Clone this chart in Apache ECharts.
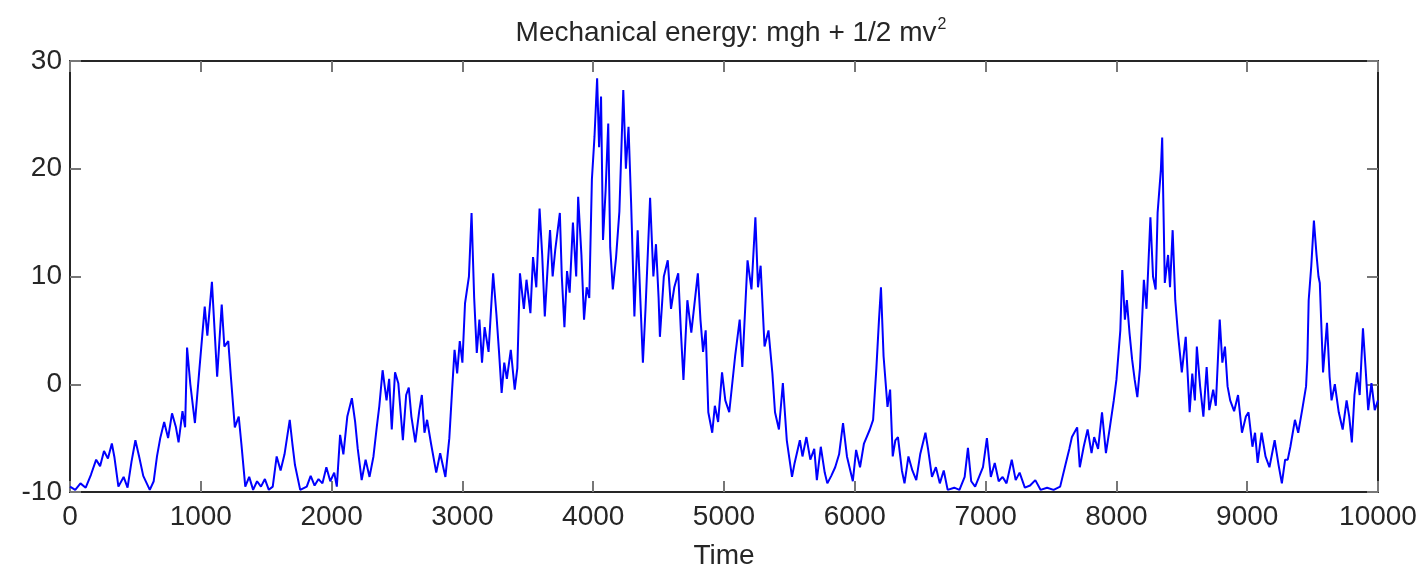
<!DOCTYPE html>
<html>
<head>
<meta charset="utf-8">
<script src="https://cdn.jsdelivr.net/npm/echarts@6/dist/echarts.min.js"></script>
<style>
  html, body { margin: 0; padding: 0; background: #fff; }
  #container { width: 1421px; height: 566px; }
</style>
</head>
<body>
<div id="container"></div>
<script>
  // time samples
  var time = [
    0, 40, 80, 120, 160, 200, 230, 260, 290, 320, 340, 370, 410, 440, 470, 500, 530, 560, 610, 640,
    665, 690, 720, 750, 780, 810, 830, 860, 880, 895, 920, 955, 990, 1030, 1050, 1085, 1110, 1125, 1160, 1180,
    1210, 1230, 1260, 1290, 1310, 1340, 1370, 1400, 1430, 1460, 1490, 1520, 1550, 1580, 1610, 1640, 1680, 1700, 1720, 1760,
    1810, 1840, 1870, 1900, 1930, 1960, 1990, 2020, 2040, 2065, 2090, 2120, 2155, 2180, 2200, 2230, 2260, 2290, 2320, 2345,
    2365, 2390, 2420, 2440, 2460, 2485, 2510, 2545, 2570, 2590, 2610, 2640, 2670, 2690, 2710, 2730, 2760, 2800, 2830, 2870,
    2900, 2920, 2940, 2960, 2980, 3000, 3020, 3050, 3070, 3090, 3110, 3130, 3150, 3170, 3200, 3235, 3260, 3280, 3300, 3320,
    3340, 3370, 3400, 3420, 3440, 3470, 3490, 3520, 3540, 3565, 3590, 3610, 3630, 3650, 3670, 3690, 3710, 3745, 3760, 3780,
    3800, 3820, 3845, 3870, 3885, 3910, 3930, 3950, 3970, 3990, 4010, 4030, 4045, 4060, 4075, 4095, 4115, 4130, 4150, 4175,
    4200, 4230, 4250, 4270, 4290, 4315, 4340, 4360, 4380, 4400, 4435, 4460, 4480, 4500, 4510, 4540, 4570, 4595, 4620, 4650,
    4670, 4690, 4720, 4750, 4800, 4820, 4840, 4860, 4880, 4910, 4930, 4955, 4985, 5010, 5040, 5085, 5120, 5140, 5180, 5210,
    5240, 5260, 5280, 5310, 5340, 5370, 5390, 5420, 5450, 5480, 5520, 5540, 5580, 5600, 5630, 5660, 5690, 5710, 5740, 5770,
    5790, 5820, 5850, 5880, 5910, 5940, 5985, 6010, 6040, 6070, 6115, 6140, 6165, 6185, 6200, 6220, 6250, 6270, 6290, 6310,
    6330, 6360, 6380, 6410, 6440, 6470, 6500, 6540, 6560, 6590, 6620, 6650, 6680, 6710, 6760, 6800, 6840, 6865, 6890, 6920,
    6950, 6980, 7010, 7040, 7070, 7100, 7130, 7160, 7200, 7230, 7260, 7300, 7340, 7380, 7420, 7470, 7520, 7570, 7610, 7640,
    7660, 7700, 7720, 7750, 7780, 7810, 7830, 7860, 7890, 7920, 7950, 7980, 8000, 8030, 8045, 8065, 8080, 8100, 8120, 8140,
    8160, 8180, 8210, 8230, 8260, 8280, 8300, 8315, 8340, 8350, 8370, 8395, 8410, 8430, 8450, 8470, 8500, 8530, 8560, 8580,
    8600, 8615, 8640, 8665, 8690, 8710, 8740, 8760, 8790, 8810, 8830, 8850, 8870, 8900, 8930, 8960, 8990, 9010, 9040, 9060,
    9080, 9110, 9140, 9170, 9210, 9240, 9265, 9290, 9310, 9330, 9365, 9390, 9420, 9450, 9460, 9470, 9490, 9510, 9530, 9545,
    9555, 9580, 9610, 9630, 9645, 9670, 9700, 9730, 9760, 9780, 9800, 9820, 9840, 9860, 9885, 9905, 9925, 9950, 9975, 10000
  ]

  // mechanical energy values at those times
  var energy = [
    -9.5, -9.8, -9.2, -9.6, -8.4, -7.0, -7.6, -6.2, -6.9, -5.5, -6.8, -9.5, -8.6, -9.6, -7.2, -5.2, -6.8, -8.5, -9.8, -9.0,
    -6.7, -5.0, -3.5, -5.0, -2.7, -4.0, -5.4, -2.5, -4.0, 3.4, 0.0, -3.6, 1.5, 7.2, 4.5, 9.5, 4.0, 0.7, 7.4, 3.5,
    4.0, 0.7, -4.0, -3.0, -5.5, -9.5, -8.6, -9.8, -9.0, -9.5, -8.8, -9.8, -9.5, -6.7, -8.0, -6.5, -3.3, -5.5, -7.5, -9.8,
    -9.5, -8.5, -9.4, -8.8, -9.2, -7.7, -9.0, -8.2, -9.5, -4.7, -6.5, -3.0, -1.3, -3.5, -6.0, -8.9, -7.0, -8.6, -6.7, -4.0,
    -2.0, 1.3, -1.5, 0.5, -4.2, 1.1, 0.1, -5.2, -1.0, -0.3, -3.0, -5.4, -2.5, -1.0, -4.5, -3.3, -5.5, -8.2, -6.4, -8.6,
    -5.0, -0.8, 3.2, 1.0, 4.0, 2.0, 7.5, 10.0, 15.9, 8.0, 2.9, 6.0, 2.0, 5.3, 3.0, 10.3, 6.5, 3.0, -0.8, 2.0,
    0.5, 3.2, -0.5, 1.5, 10.3, 7.0, 9.7, 6.6, 11.8, 9.0, 16.3, 12.0, 6.3, 10.5, 14.3, 10.0, 12.5, 15.9, 10.0, 5.3,
    10.5, 8.5, 15.0, 10.0, 17.4, 12.0, 6.0, 9.0, 8.0, 19.0, 23.0, 28.4, 22.0, 26.7, 13.4, 18.0, 24.2, 12.7, 8.8, 11.8,
    16.0, 27.3, 20.0, 23.9, 16.8, 6.3, 14.3, 8.0, 2.0, 7.0, 17.3, 10.0, 13.0, 8.0, 4.4, 10.0, 11.5, 7.0, 9.0, 10.3,
    5.0, 0.4, 7.8, 4.8, 10.3, 6.0, 3.0, 5.0, -2.6, -4.5, -2.0, -3.5, 1.1, -1.5, -2.6, 2.6, 6.0, 1.6, 11.5, 8.8,
    15.5, 9.0, 11.0, 3.5, 5.0, 1.0, -2.6, -4.2, 0.1, -5.2, -8.6, -7.3, -5.2, -6.7, -4.9, -7.0, -6.0, -8.9, -5.8, -8.2,
    -9.2, -8.5, -7.7, -6.5, -3.6, -6.7, -9.0, -6.1, -7.7, -5.5, -4.2, -3.3, 1.5, 6.0, 9.0, 2.6, -2.1, -0.5, -6.7, -5.2,
    -4.9, -8.0, -9.2, -6.7, -8.0, -8.9, -6.5, -4.5, -6.0, -8.6, -7.7, -9.2, -8.0, -9.8, -9.6, -9.8, -8.6, -5.9, -9.0, -9.5,
    -8.6, -7.7, -5.0, -8.6, -7.3, -9.0, -8.6, -9.2, -7.0, -8.9, -8.2, -9.6, -9.4, -8.9, -9.8, -9.6, -9.8, -9.5, -7.5, -6.0,
    -4.9, -4.0, -7.7, -5.8, -4.2, -6.4, -4.9, -6.0, -2.6, -6.4, -4.0, -1.5, 0.4, 5.0, 10.6, 6.0, 7.8, 4.8, 2.3, 0.4,
    -1.2, 1.5, 9.7, 7.0, 15.5, 10.0, 8.8, 15.9, 19.9, 22.9, 9.4, 12.0, 9.0, 14.3, 7.8, 4.8, 1.1, 4.4, -2.6, 1.0,
    -1.5, 3.5, -0.2, -3.0, 1.6, -2.4, -0.5, -2.0, 6.0, 2.0, 3.5, -0.2, -1.5, -2.5, -1.0, -4.5, -3.0, -2.6, -5.8, -4.5,
    -7.3, -4.5, -6.7, -7.7, -5.2, -7.5, -9.2, -7.0, -7.0, -5.8, -3.3, -4.5, -2.4, -0.2, 2.3, 7.8, 11.0, 15.2, 12.0, 10.0,
    9.4, 1.1, 5.7, 0.7, -1.5, 0.0, -2.6, -4.2, -1.5, -3.0, -5.4, -1.0, 1.1, -1.0, 5.2, 1.5, -2.4, 0.1, -2.4, -1.5
  ]

  // axis ticks
  var timeTicks = [0, 10000, 1000]
  var energyTicks = [-10, 30, 10]

  var points = []
  for (var i = 0; i < time.length; i++) {
    points.push([time[i], energy[i]])
  }

  var fontName = '"Liberation Sans", Arial, Helvetica, sans-serif'
  var axisColor = '#262626'
  var plain = function (v) { return String(v) }

  var dom = document.getElementById('container')
  var myChart = echarts.init(dom)
  myChart.setOption({
    animation: false,
    backgroundColor: '#fff',
    title: {
      text: 'Mechanical energy: mgh + 1/2 mv{sup|2}',
      left: 726,
      top: 12,
      textAlign: 'center',
      textStyle: {
        fontFamily: fontName,
        fontWeight: 'normal',
        fontSize: 28,
        color: axisColor,
        rich: {
          sup: {
            fontFamily: fontName,
            fontSize: 16,
            color: axisColor,
            padding: [0, 0, 16, 1]
          }
        }
      }
    },
    grid: {
      left: 70,
      right: 43,
      top: 61,
      bottom: 74,
      containLabel: false,
      outerBoundsMode: 'none'
    },
    xAxis: [{
      type: 'value',
      min: timeTicks[0],
      max: timeTicks[1],
      interval: timeTicks[2],
      name: 'Time',
      nameLocation: 'middle',
      nameGap: 50,
      nameTextStyle: { fontFamily: fontName, fontSize: 28, color: axisColor },
      axisLine: { show: true, onZero: false, lineStyle: { color: axisColor, width: 2 } },
      axisTick: { show: true, inside: true, length: 11, lineStyle: { color: '#777', width: 2 } },
      axisLabel: { fontFamily: fontName, fontSize: 28, color: axisColor, margin: 11, formatter: plain },
      splitLine: { show: false }
    }, {
      type: 'value',
      position: 'top',
      min: timeTicks[0],
      max: timeTicks[1],
      interval: timeTicks[2],
      axisLine: { show: true, onZero: false, lineStyle: { color: axisColor, width: 2 } },
      axisTick: { show: true, inside: true, length: 11, lineStyle: { color: '#777', width: 2 } },
      axisLabel: { show: false },
      splitLine: { show: false }
    }],
    yAxis: [{
      type: 'value',
      min: energyTicks[0],
      max: energyTicks[1],
      interval: energyTicks[2],
      axisLine: { show: true, onZero: false, lineStyle: { color: axisColor, width: 2 } },
      axisTick: { show: true, inside: true, length: 11, lineStyle: { color: '#777', width: 2 } },
      axisLabel: { fontFamily: fontName, fontSize: 28, color: axisColor, margin: 8, formatter: plain },
      splitLine: { show: false }
    }, {
      type: 'value',
      position: 'right',
      min: energyTicks[0],
      max: energyTicks[1],
      interval: energyTicks[2],
      axisLine: { show: true, onZero: false, lineStyle: { color: axisColor, width: 2 } },
      axisTick: { show: true, inside: true, length: 11, lineStyle: { color: '#777', width: 2 } },
      axisLabel: { show: false },
      splitLine: { show: false }
    }],
    series: [{
      name: 'energy',
      type: 'line',
      xAxisIndex: 0,
      yAxisIndex: 0,
      data: points,
      showSymbol: false,
      symbol: 'none',
      lineStyle: { color: '#0000ff', width: 2 },
      clip: true
    }]
  })
</script>
</body>
</html>
